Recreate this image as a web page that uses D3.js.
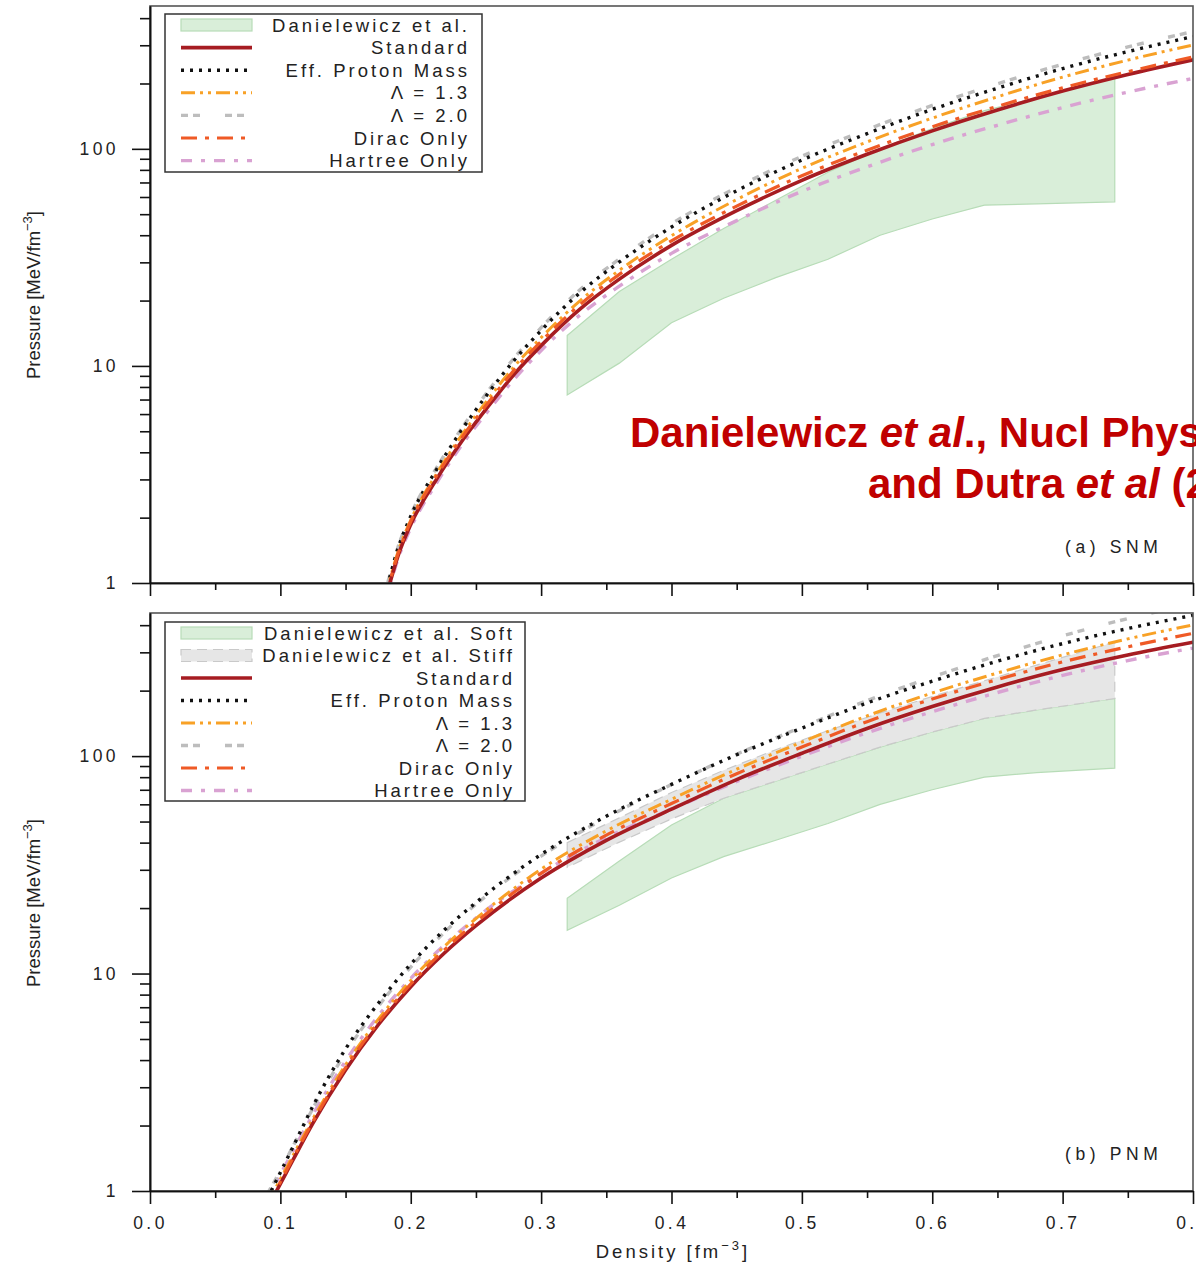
<!DOCTYPE html>
<html>
<head>
<meta charset="utf-8" />
<title>Pressure vs density</title>
<style>
  body { margin: 0; background: #fff; }
  svg { display: block; font-family: "Liberation Sans", Arial, sans-serif; }
</style>
</head>
<body>
<svg width="1196" height="1264"></svg>

<script src="https://cdn.jsdelivr.net/npm/d3@7"></script>
<script>
// ---- (a) symmetric nuclear matter, pressure in MeV/fm^3
var snmDensity  = [0.18, 0.184, 0.19, 0.20, 0.22, 0.24, 0.26, 0.28, 0.30, 0.33, 0.36, 0.40, 0.45, 0.50, 0.55, 0.60, 0.65, 0.70, 0.75, 0.80];
var snmStandard = [0.82, 1.0, 1.32, 1.86, 3.02, 4.57, 6.58, 9.25, 12.4, 18.3, 25.1, 35.9, 51.9, 71.6, 94.4, 121, 151, 184.5, 220, 257];
var snmEffMass  = [0.88, 1.07, 1.43, 2.03, 3.35, 5.16, 7.57, 10.73, 14.57, 21.78, 30.12, 43.62, 64.1, 88.8, 117.5, 151.9, 190.3, 234.3, 280.5, 329];
var snmLambda13 = [0.85, 1.04, 1.38, 1.95, 3.2, 4.89, 7.11, 10.04, 13.5, 20.0, 27.6, 39.8, 58.4, 81.3, 107.6, 138.5, 173.7, 214, 256.3, 301];
var snmLambda20 = [0.89, 1.09, 1.45, 2.06, 3.41, 5.26, 7.76, 11.0, 15.0, 22.5, 31.1, 45.2, 66.4, 92.4, 122.7, 158.5, 199.3, 245.4, 294.8, 347];
var snmDirac    = [0.84, 1.02, 1.35, 1.92, 3.13, 4.75, 6.84, 9.67, 12.96, 19.2, 26.4, 37.7, 54.5, 75.2, 98.6, 126.4, 157, 191, 226.6, 265];
var snmHartree  = [0.80, 0.97, 1.28, 1.79, 2.9, 4.39, 6.28, 8.79, 11.78, 17.2, 23.3, 33.0, 46.7, 63.7, 82.6, 104.7, 128.4, 155, 182.6, 211];

// ---- (b) pure neutron matter
var pnmDensity  = [0.09, 0.097, 0.11, 0.125, 0.15, 0.175, 0.20, 0.225, 0.25, 0.30, 0.35, 0.40, 0.45, 0.50, 0.55, 0.60, 0.65, 0.70, 0.75, 0.80];
var pnmStandard = [0.84, 1.0, 1.4, 2.05, 3.6, 5.8, 8.7, 12.3, 16.6, 27.5, 41, 57, 78, 103, 134, 169, 208, 250, 292, 334];
var pnmEffMass  = [0.92, 1.12, 1.61, 2.46, 4.5, 7.28, 11.05, 15.7, 21.2, 35.3, 52.9, 74.1, 101.4, 134.4, 175.5, 221, 273, 329, 386, 444];
var pnmLambda13 = [0.88, 1.05, 1.47, 2.15, 3.8, 6.15, 9.3, 13.2, 17.9, 30.2, 45.3, 63.3, 87, 116, 153, 195, 241, 292, 346, 401];
var pnmLambda20 = [0.97, 1.15, 1.62, 2.4, 4.32, 7.05, 10.7, 15.3, 20.8, 34.7, 52.1, 74, 102, 136, 180, 231, 290, 357, 429, 501];
var pnmDirac    = [0.86, 1.02, 1.43, 2.09, 3.69, 5.95, 8.95, 12.7, 17.2, 28.9, 43.3, 60.5, 83, 110, 144, 183, 225, 271, 318, 367];
var pnmHartree  = [0.92, 1.10, 1.54, 2.25, 3.96, 6.38, 9.5, 13.4, 18.0, 28.9, 42.2, 57, 76.4, 99.9, 128, 160, 196, 235, 275, 314];

// ---- Danielewicz et al. flow constraints
var bandDensity  = [0.32, 0.36, 0.40, 0.44, 0.48, 0.52, 0.56, 0.60, 0.64, 0.68, 0.74];
var snmBandLow   = [7.35, 10.3, 15.8, 20.5, 25.5, 31, 40, 47.5, 55, 55.8, 57];
var snmBandHigh  = [13.8, 22, 31, 43, 58, 78, 100, 124, 150, 172, 212];
var pnmSoftLow   = [15.8, 20.6, 27.5, 34.5, 41, 49, 60, 70, 80, 84, 88];
var pnmSoftHigh  = [22.2, 32.9, 48.2, 64, 76.7, 92, 110, 129, 149, 163, 184];
var pnmStiffLow  = [30.8, 40.2, 51.4, 64, 76.7, 92, 110, 129, 149, 163, 184];
var pnmStiffHigh = [40, 52, 68, 86, 107, 131, 158, 188, 222, 262, 335];

var xMajorTicks = [0, 0.1, 0.2, 0.3, 0.4, 0.5, 0.6, 0.7, 0.8];
var xMinorTicks = [0.05, 0.15, 0.25, 0.35, 0.45, 0.55, 0.65, 0.75];
var yMajorTicks = [1, 10, 100];
var yMinorTicks = [2, 3, 4, 5, 6, 7, 8, 9, 20, 30, 40, 50, 60, 70, 80, 90, 200, 300, 400];

var snmLegendLabels = ['Danielewicz et al.', 'Standard', 'Eff. Proton Mass', 'Λ = 1.3', 'Λ = 2.0', 'Dirac Only', 'Hartree Only'];
var pnmLegendLabels = ['Danielewicz et al. Soft', 'Danielewicz et al. Stiff', 'Standard', 'Eff. Proton Mass', 'Λ = 1.3', 'Λ = 2.0', 'Dirac Only', 'Hartree Only'];

var styles = {
    standard: { color: '#a61c22', dash: null, width: 3.6 },
    eff:      { color: '#111111', dash: '3,6', width: 3.4 },
    l13:      { color: '#f8a126', dash: '14,5,3,5,3,5', width: 3 },
    l20:      { color: '#bdbdbd', dash: '7,5,7,25', width: 3.4 },
    dirac:    { color: '#ef5a26', dash: '16,8,4,8', width: 3.2 },
    hartree:  { color: '#d9a2d2', dash: '11,9,4,9', width: 3.4 }
};
var green = { fill: '#d9eed9', stroke: '#b7dcb7' };
var grey  = { fill: '#e6e6e6', stroke: '#c9c9c9' };

var svg = d3.select('svg');
var x = d3.scaleLinear().domain([0, 0.8]).range([150, 1193]);

function drawPanel(cfg) {
    var y = d3.scaleLog().domain([1, 455]).range([cfg.bottom, cfg.top]);
    var g = svg.append('g');
    var clipId = 'clip' + cfg.id;
    svg.append('clipPath').attr('id', clipId)
        .append('rect')
        .attr('x', x(0)).attr('y', cfg.top)
        .attr('width', x(0.8) - x(0)).attr('height', cfg.bottom - cfg.top);

    var plot = g.append('g').attr('clip-path', 'url(#' + clipId + ')');

    // bands
    cfg.bands.forEach(function (b) {
        var area = d3.area()
            .x(function (d, i) { return x(bandDensity[i]); })
            .y0(function (d, i) { return y(b.low[i]); })
            .y1(function (d, i) { return y(b.high[i]); });
        plot.append('path')
            .attr('d', area(bandDensity))
            .attr('fill', b.style.fill)
            .attr('stroke', b.style.stroke)
            .attr('stroke-width', 1.2)
            .attr('stroke-dasharray', b.dashed ? '10,6' : null);
    });

    // curves
    var line = d3.line()
        .x(function (d) { return x(d[0]); })
        .y(function (d) { return y(d[1]); })
        .curve(d3.curveMonotoneX);

    cfg.series.forEach(function (s) {
        var pts = cfg.density.map(function (r, i) { return [r, s.values[i]]; });
        plot.append('path')
            .attr('d', line(pts))
            .attr('fill', 'none')
            .attr('stroke', s.style.color)
            .attr('stroke-width', s.style.width)
            .attr('stroke-dasharray', s.style.dash);
    });

    // frame
    g.append('rect')
        .attr('x', x(0)).attr('y', cfg.top)
        .attr('width', x(0.8) - x(0)).attr('height', cfg.bottom - cfg.top)
        .attr('fill', 'none').attr('stroke', '#555').attr('stroke-width', 1.6);

    // axes
    var yMaj = g.append('g').attr('transform', 'translate(' + x(0) + ',0)')
        .call(d3.axisLeft(y).tickValues(yMajorTicks).tickSize(18).tickSizeOuter(0)
            .tickFormat(d3.format('d')).tickPadding(13));
    var yMin = g.append('g').attr('transform', 'translate(' + x(0) + ',0)')
        .call(d3.axisLeft(y).tickValues(yMinorTicks).tickSize(10).tickSizeOuter(0).tickFormat(''));
    var xMaj = g.append('g').attr('transform', 'translate(0,' + cfg.bottom + ')')
        .call(d3.axisBottom(x).tickValues(xMajorTicks).tickSize(13).tickSizeOuter(0)
            .tickFormat(cfg.xLabels ? d3.format('.1f') : '').tickPadding(13));
    var xMin = g.append('g').attr('transform', 'translate(0,' + cfg.bottom + ')')
        .call(d3.axisBottom(x).tickValues(xMinorTicks).tickSize(7).tickSizeOuter(0).tickFormat(''));

    [yMaj, yMin, xMaj, xMin].forEach(function (a) {
        a.selectAll('path').attr('stroke', '#111').attr('stroke-width', 1.6);
        a.selectAll('line').attr('stroke', '#111').attr('stroke-width', 1.6);
        a.selectAll('text')
            .attr('font-family', '"Liberation Sans", Arial, sans-serif')
            .attr('font-size', 17.5)
            .attr('letter-spacing', 3.4)
            .attr('fill', '#222');
    });

    // y label
    var yl = g.append('text')
        .attr('transform', 'translate(40,' + cfg.labelY + ') rotate(-90)')
        .attr('text-anchor', 'middle')
        .attr('font-size', 18.5)
        .attr('fill', '#222');
    yl.append('tspan').text('Pressure [MeV/fm');
    yl.append('tspan').attr('dy', -8).attr('font-size', 13).text('−3');
    yl.append('tspan').attr('dy', 8).text(']');

    // panel tag
    g.append('text')
        .attr('x', 1065).attr('y', cfg.tagY)
        .attr('font-size', 17.5).attr('letter-spacing', 4.6).attr('fill', '#222')
        .text(cfg.tag);

    // legend
    var lg = g.append('g');
    lg.append('rect')
        .attr('x', 165).attr('y', cfg.legend.top)
        .attr('width', cfg.legend.right - 165).attr('height', cfg.legend.bottom - cfg.legend.top)
        .attr('fill', '#fff').attr('stroke', '#333').attr('stroke-width', 1.5);

    cfg.legend.items.forEach(function (item, i) {
        var cy = cfg.legend.first + i * cfg.legend.step;
        if (item.band) {
            lg.append('rect')
                .attr('x', 181).attr('y', cy - 6).attr('width', 71).attr('height', 12)
                .attr('fill', item.band.fill).attr('stroke', item.band.stroke)
                .attr('stroke-width', 1.2)
                .attr('stroke-dasharray', item.dashed ? '10,6' : null);
        } else {
            lg.append('line')
                .attr('x1', 181).attr('x2', 252).attr('y1', cy).attr('y2', cy)
                .attr('stroke', item.style.color)
                .attr('stroke-width', item.style.width)
                .attr('stroke-dasharray', item.style.dash);
        }
        lg.append('text')
            .attr('x', cfg.legend.textX).attr('y', cy + 6.5)
            .attr('text-anchor', 'end')
            .attr('font-size', 18.5).attr('letter-spacing', 3).attr('fill', '#222')
            .text(cfg.legend.labels[i]);
    });
}

drawPanel({
    id: 'a', top: 6, bottom: 583, labelY: 295, tagY: 553, tag: '(a) SNM', xLabels: false,
    density: snmDensity,
    bands: [{ low: snmBandLow, high: snmBandHigh, style: green }],
    series: [
        { values: snmHartree, style: styles.hartree },
        { values: snmLambda20, style: styles.l20 },
        { values: snmEffMass, style: styles.eff },
        { values: snmLambda13, style: styles.l13 },
        { values: snmStandard, style: styles.standard },
        { values: snmDirac, style: styles.dirac }
    ],
    legend: {
        top: 14, bottom: 172, right: 482, first: 25, step: 22.6, textX: 470,
        labels: snmLegendLabels,
        items: [{ band: green }, { style: styles.standard }, { style: styles.eff }, { style: styles.l13 },
                { style: styles.l20 }, { style: styles.dirac }, { style: styles.hartree }]
    }
});

drawPanel({
    id: 'b', top: 613, bottom: 1191, labelY: 903, tagY: 1160, tag: '(b) PNM', xLabels: true,
    density: pnmDensity,
    bands: [{ low: pnmSoftLow, high: pnmSoftHigh, style: green },
            { low: pnmStiffLow, high: pnmStiffHigh, style: grey, dashed: true }],
    series: [
        { values: pnmHartree, style: styles.hartree },
        { values: pnmLambda20, style: styles.l20 },
        { values: pnmEffMass, style: styles.eff },
        { values: pnmLambda13, style: styles.l13 },
        { values: pnmStandard, style: styles.standard },
        { values: pnmDirac, style: styles.dirac }
    ],
    legend: {
        top: 622, bottom: 801, right: 525, first: 633, step: 22.5, textX: 515,
        labels: pnmLegendLabels,
        items: [{ band: green }, { band: grey, dashed: true }, { style: styles.standard }, { style: styles.eff },
                { style: styles.l13 }, { style: styles.l20 }, { style: styles.dirac }, { style: styles.hartree }]
    }
});

// x label
var xl = svg.append('text')
    .attr('x', 673).attr('y', 1258)
    .attr('text-anchor', 'middle')
    .attr('font-size', 18.5).attr('letter-spacing', 3).attr('fill', '#222');
xl.append('tspan').text('Density [fm');
xl.append('tspan').attr('dy', -8).attr('font-size', 13).text('−3');
xl.append('tspan').attr('dy', 8).text(']');

// citation overlay (runs past the right edge, as in the original slide)
var cite = svg.append('g')
    .attr('font-family', '"Liberation Sans", Arial, sans-serif')
    .attr('font-weight', 'bold').attr('font-size', 42).attr('fill', '#c00000');
var c1 = cite.append('text').attr('x', 630).attr('y', 447);
c1.append('tspan').text('Danielewicz ');
c1.append('tspan').attr('font-style', 'italic').text('et al');
c1.append('tspan').text('., Nucl Phys');
var c2 = cite.append('text').attr('x', 868).attr('y', 498);
c2.append('tspan').text('and Dutra ');
c2.append('tspan').attr('font-style', 'italic').text('et al');
c2.append('tspan').text(' (2012)');
</script>
</body>
</html>
